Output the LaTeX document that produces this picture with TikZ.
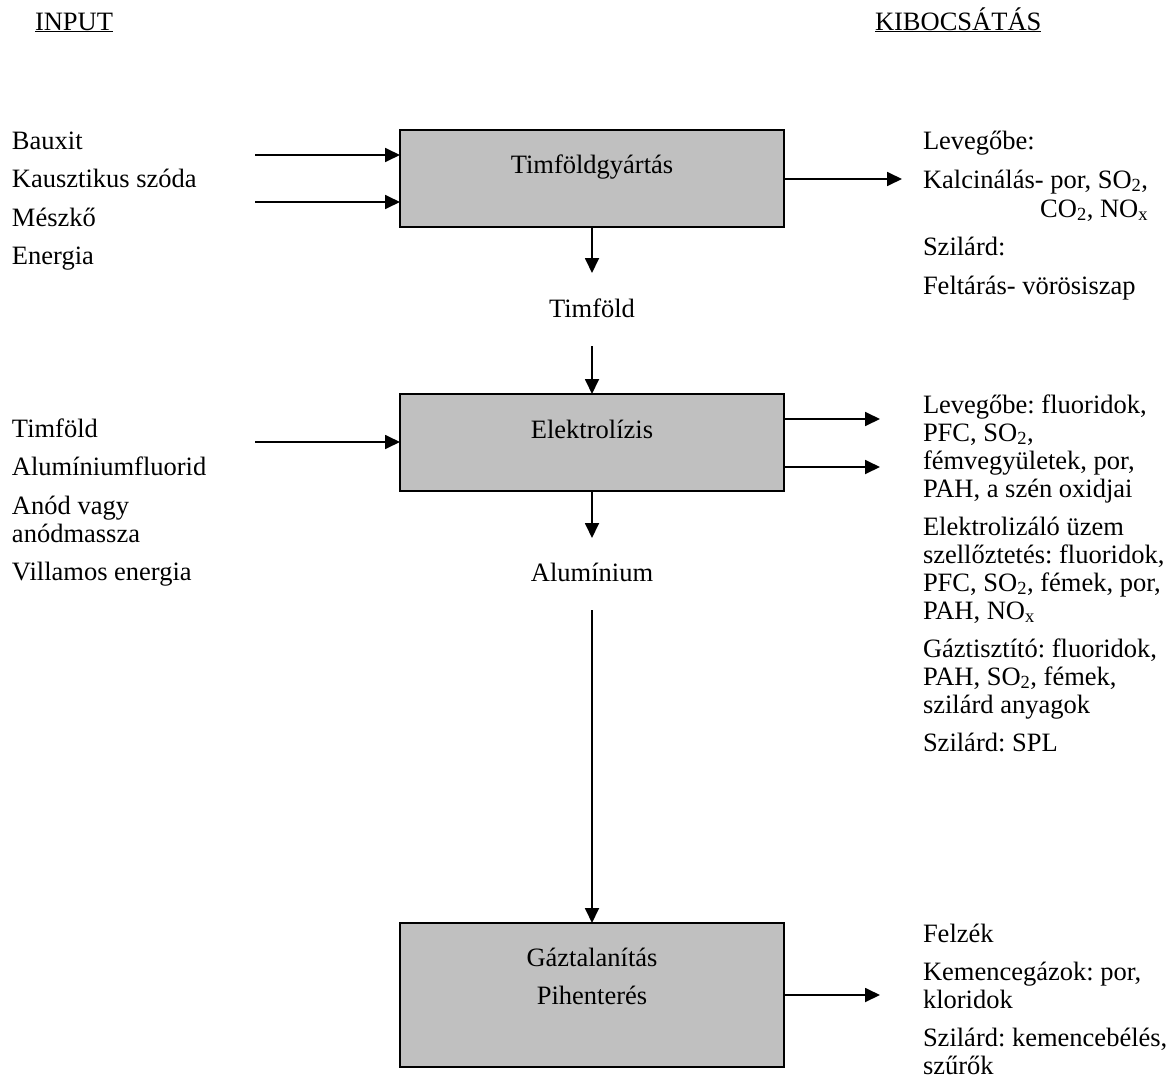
\documentclass[tikz,border=0pt]{standalone}
\usepackage{fontspec}
\setmainfont{Liberation Serif}
\usetikzlibrary{arrows.meta}
\definecolor{boxgray}{HTML}{C0C0C0}
\frenchspacing
\begin{document}
\begin{tikzpicture}[x=1pt,y=-1pt,
  every node/.style={font=\fontsize{26.5}{28}\selectfont, inner sep=0pt, outer sep=0pt},
  txt/.style={anchor=base west},
  ctr/.style={anchor=base},
  procbox/.style={draw=black, line width=1.5pt, fill=boxgray, minimum width=384pt, anchor=north west},
  flow/.style={line width=1.8pt, -{Triangle[length=15pt,width=14pt]}}]
\useasboundingbox (0,0) rectangle (1173,1084);

% column headings
\node[txt] (hin) at (35,30) {\underline{INPUT}};
\node[txt] (hout) at (875,30) {\underline{KIBOCSÁTÁS}};

% process boxes
\node[procbox, minimum height=97pt] (b1) at (400,130) {};
\node[procbox, minimum height=97pt] (b2) at (400,394) {};
\node[procbox, minimum height=144pt] (b3) at (400,923) {};
\node[ctr] (t1) at (592,173) {Timföldgyártás};
\node[ctr] (t2) at (592,438) {Elektrolízis};
\node[ctr] (t3a) at (592,966) {Gáztalanítás};
\node[ctr] (t3b) at (592,1004) {Pihenterés};

% intermediate products
\node[ctr] (p1) at (592,317) {Timföld};
\node[ctr] (p2) at (592,581) {Alumínium};

% inputs of the first stage
\node[txt] (i1) at (12,149) {Bauxit};
\node[txt] (i2) at (12,187.5) {Kausztikus szóda};
\node[txt] (i3) at (12,226) {Mészkő};
\node[txt] (i4) at (12,264.5) {Energia};

% inputs of the electrolysis
\node[txt] (j1) at (12,437) {Timföld};
\node[txt] (j2) at (12,475.5) {Alumíniumfluorid};
\node[txt] (j3) at (12,514) {Anód vagy};
\node[txt] (j4) at (12,542) {anódmassza};
\node[txt] (j5) at (12,580.5) {Villamos energia};

% emissions of the first stage
\node[txt] (e1) at (923,149) {Levegőbe:};
\node[txt] (e2) at (923,188) {Kalcinálás- por, SO\textsubscript{2},};
\node[anchor=base east] (e3) at (e2.base east |- 0,217) {CO\textsubscript{2}, NO\textsubscript{x}};
\node[txt] (e4) at (923,255) {Szilárd:};
\node[txt] (e5) at (923,294) {Feltárás- vörösiszap};

% emissions of the electrolysis
\node[txt] (f1) at (923,413) {Levegőbe: fluoridok,};
\node[txt] (f2) at (923,441) {PFC, SO\textsubscript{2},};
\node[txt] (f3) at (923,469) {fémvegyületek, por,};
\node[txt] (f4) at (923,497) {PAH, a szén oxidjai};
\node[txt] (f5) at (923,535) {Elektrolizáló üzem};
\node[txt] (f6) at (923,563) {szellőztetés: fluoridok,};
\node[txt] (f7) at (923,591) {PFC, SO\textsubscript{2}, fémek, por,};
\node[txt] (f8) at (923,619) {PAH, NO\textsubscript{x}};
\node[txt] (f9) at (923,657) {Gáztisztító: fluoridok,};
\node[txt] (f10) at (923,685) {PAH, SO\textsubscript{2}, fémek,};
\node[txt] (f11) at (923,713) {szilárd anyagok};
\node[txt] (f12) at (923,751) {Szilárd: SPL};

% emissions of the degassing stage
\node[txt] (g1) at (923,942) {Felzék};
\node[txt] (g2) at (923,980) {Kemencegázok: por,};
\node[txt] (g3) at (923,1008) {kloridok};
\node[txt] (g4) at (923,1046) {Szilárd: kemencebélés,};
\node[txt] (g5) at (923,1074) {szűrők};

% free ends of the connectors
\coordinate (a1) at (255,155);
\coordinate (a2) at (255,202);
\coordinate (a3) at (255,442);
\coordinate (c1) at (902,179);
\coordinate (c2) at (880,419);
\coordinate (c3) at (880,467);
\coordinate (c4) at (880,995);
\coordinate (d1) at (592,273);
\coordinate (d2) at (592,346);
\coordinate (d3) at (592,538);
\coordinate (d4) at (592,610);

% inputs into the boxes
\draw[flow] (a1) -- (a1 -| b1.west);
\draw[flow] (a2) -- (a2 -| b1.west);
\draw[flow] (a3) -- (a3 -| b2.west);
% emissions out of the boxes
\draw[flow] (c1 -| b1.east) -- (c1);
\draw[flow] (c2 -| b2.east) -- (c2);
\draw[flow] (c3 -| b2.east) -- (c3);
\draw[flow] (c4 -| b3.east) -- (c4);
% main product flow
\draw[flow] (b1.south) -- (d1);
\draw[flow] (d2) -- (b2.north);
\draw[flow] (b2.south) -- (d3);
\draw[flow] (d4) -- (b3.north);
\end{tikzpicture}
\end{document}
